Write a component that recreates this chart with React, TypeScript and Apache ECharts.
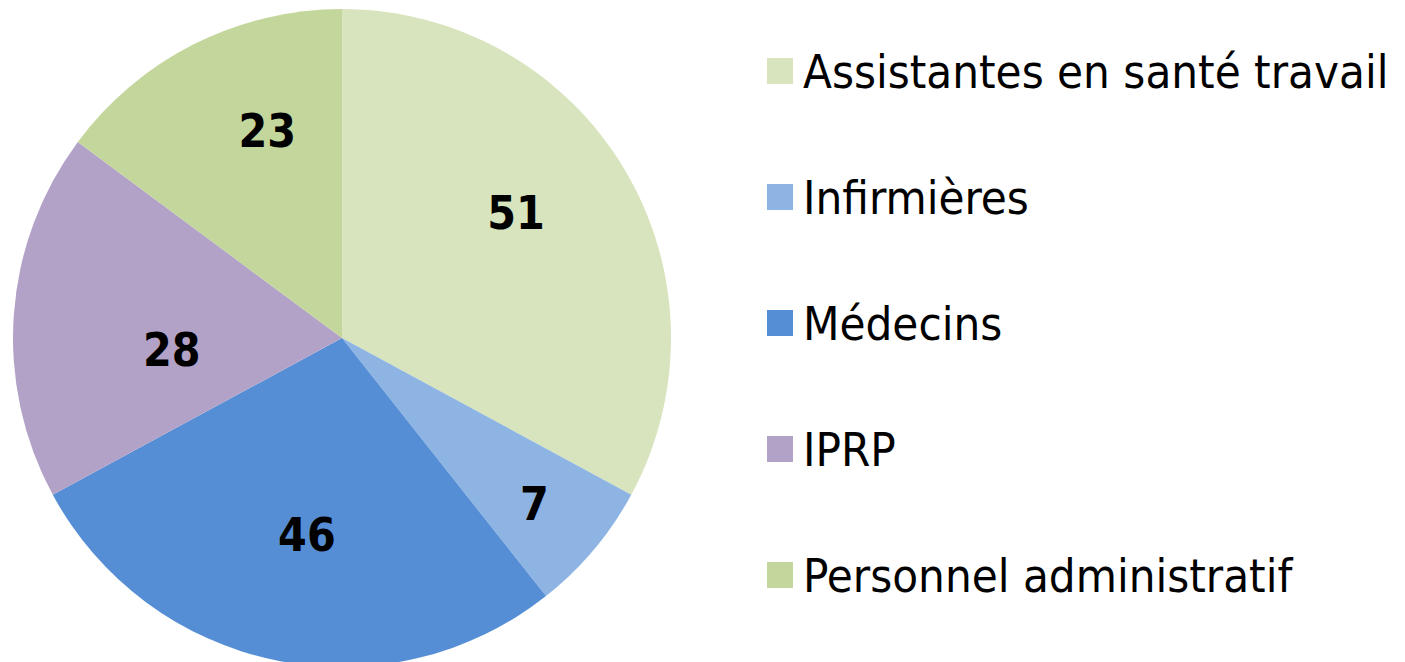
import React, { useEffect, useRef } from "react";
import * as echarts from "echarts";

const categories = [
  "Assistantes en santé travail",
  "Infirmières",
  "Médecins",
  "IPRP",
  "Personnel administratif",
];
// slice sizes as drawn in the reference (angles of the wedges)
const sliceValues = [51, 10, 43, 28, 23];
// numbers printed on the wedges in the reference
const labelValues = [51, 7, 46, 28, 23];
const colors = ["#d7e4bd", "#8eb4e3", "#558ed5", "#b3a2c7", "#c3d69b"];

// label placement (fraction of radius) and angular nudge, mimicking Excel best-fit
const LABEL_RADIUS = [0.648, 0.776, 0.614, 0.519, 0.663];
const LABEL_ANGLE_NUDGE = [-4.5, 1, -1.6, -8.8, 6.7];

const CX = 342;
const CY = 338;
const R = 329;
const FONT = "'DejaVu Sans Condensed', 'DejaVu Sans', sans-serif";

export default function App() {
  const ref = useRef<HTMLDivElement>(null);
  useEffect(() => {
    if (!ref.current) return;
    const chart = echarts.init(ref.current, undefined, { renderer: "svg" });
    const total = sliceValues.reduce((a, b) => a + b, 0);
    const mids: number[] = [];
    let acc = 0;
    sliceValues.forEach((v) => {
      mids.push(((acc + v / 2) / total) * 360);
      acc += v;
    });
    chart.setOption({
      animation: false,
      backgroundColor: "#ffffff",
      color: colors,
      legend: {
        orient: "vertical",
        left: 767,
        top: 46,
        padding: 0,
        itemWidth: 26,
        itemHeight: 26,
        itemGap: 76,
        icon: "rect",
        data: categories,
        textStyle: {
          fontFamily: FONT,
          fontSize: 47,
          lineHeight: 50,
          color: "#000000",
          padding: [0, 0, 0, 5],
        },
      },
      series: [
        {
          type: "pie",
          center: [CX, CY],
          radius: R,
          startAngle: 90,
          clockwise: true,
          avoidLabelOverlap: false,
          labelLine: { show: false },
          itemStyle: { borderWidth: 0 },
          emphasis: { disabled: true },
          label: {
            show: true,
            position: "inside",
            formatter: (p: any) => String(labelValues[p.dataIndex]),
            fontFamily: FONT,
            fontWeight: "bold",
            fontSize: 46,
            color: "#000000",
          },
          labelLayout: (params: any) => {
            const i = params.dataIndex;
            const a = ((mids[i] + LABEL_ANGLE_NUDGE[i]) * Math.PI) / 180;
            const d = LABEL_RADIUS[i] * R;
            return {
              x: CX + d * Math.sin(a),
              y: CY - d * Math.cos(a) - 2,
              align: "center",
              verticalAlign: "middle",
            };
          },
          data: categories.map((name, i) => ({ name, value: sliceValues[i] })),
        },
      ],
    });
    return () => chart.dispose();
  }, []);
  return (
    <div
      ref={ref}
      style={{ position: "absolute", left: 0, top: 0, width: 1405, height: 662 }}
    />
  );
}
